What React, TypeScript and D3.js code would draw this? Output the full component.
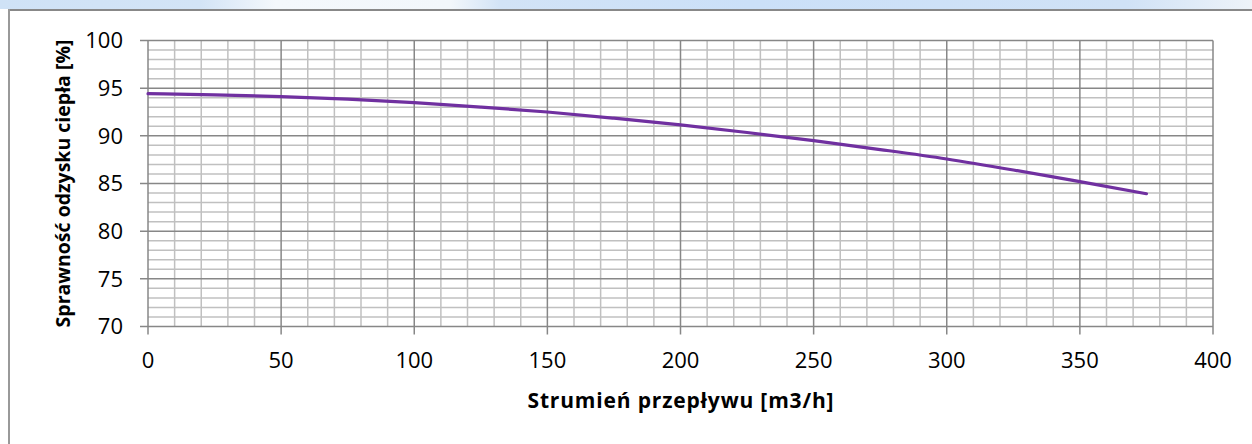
import React from "react";
import * as d3 from "d3";

const flowValues = [0, 25, 50, 75, 100, 125, 150, 175, 200, 225, 250, 275, 300, 325, 350, 375];
const efficiencyValues = [94.42, 94.3, 94.12, 93.85, 93.48, 93.02, 92.5, 91.85, 91.14, 90.35, 89.49, 88.56, 87.57, 86.42, 85.19, 83.93];
const xTicks = [0, 50, 100, 150, 200, 250, 300, 350, 400];
const yTicks = [70, 75, 80, 85, 90, 95, 100];
const xTitle = "Strumień przepływu [m3/h]";
const yTitle = "Sprawność odzysku ciepła [%]";

const W = 1252;
const H = 444;
const left = 148;
const right = 1213;
const top = 40.5;
const bottom = 326.5;

export default function App() {
  const x = d3.scaleLinear().domain([0, 400]).range([left, right]);
  const y = d3.scaleLinear().domain([70, 100]).range([bottom, top]);
  const minorX = d3.range(0, 401, 10).filter((v) => v % 50 !== 0);
  const minorY = d3.range(70, 101, 1).filter((v) => v % 5 !== 0);
  const pts: [number, number][] = flowValues.map((f, i) => [f, efficiencyValues[i]]);
  const line = d3
    .line<[number, number]>()
    .x((d) => x(d[0]))
    .y((d) => y(d[1]))
    .curve(d3.curveMonotoneX);
  const font = "'Open Sans', 'Liberation Sans', sans-serif";
  return (
    <svg
      width={W}
      height={H}
      style={{ position: "absolute", left: 0, top: 0, background: "#fff" }}
    >
      <defs>
        <linearGradient id="band" x1="0" x2="1" y1="0" y2="0">
          <stop offset="0" stopColor="#cfe2f6" />
          <stop offset="0.16" stopColor="#d3e4f6" />
          <stop offset="0.22" stopColor="#f4f8fc" />
          <stop offset="0.36" stopColor="#f2f7fb" />
          <stop offset="0.4" stopColor="#d2e3f6" />
          <stop offset="0.6" stopColor="#cbe0f8" />
          <stop offset="0.9" stopColor="#d0e2f6" />
          <stop offset="1" stopColor="#eef3f8" />
        </linearGradient>
      </defs>
      <rect x={0} y={0} width={W} height={9} fill="url(#band)" />
      <line x1={8} x2={W} y1={10} y2={10} stroke="#888" strokeWidth={2} />
      <line x1={9} x2={9} y1={9} y2={H} stroke="#999" strokeWidth={2} />

      {minorX.map((v) => (
        <line key={"mx" + v} x1={x(v)} x2={x(v)} y1={top} y2={bottom} stroke="#c0c0c0" strokeWidth={1.5} />
      ))}
      {minorY.map((v) => (
        <line key={"my" + v} x1={left} x2={right} y1={y(v)} y2={y(v)} stroke="#c0c0c0" strokeWidth={1.5} />
      ))}
      {xTicks.map((v) => (
        <line key={"Mx" + v} x1={x(v)} x2={x(v)} y1={top} y2={bottom + 8} stroke="#878787" strokeWidth={1.5} />
      ))}
      {yTicks.map((v) => (
        <line key={"My" + v} x1={left - 8} x2={right} y1={y(v)} y2={y(v)} stroke="#878787" strokeWidth={1.5} />
      ))}

      <path d={line(pts) || ""} fill="none" stroke="#7030a0" strokeWidth={3.2} strokeLinecap="round" />

      {yTicks.map((v) => (
        <text key={"ty" + v} x={123} y={y(v)} dy="0.36em" textAnchor="end" fontFamily={font} fontSize={22} fill="#000">
          {v}
        </text>
      ))}
      {xTicks.map((v) => (
        <text key={"tx" + v} x={x(v)} y={368} textAnchor="middle" fontFamily={font} fontSize={22} fill="#000">
          {v}
        </text>
      ))}
      <text
        x={(left + right) / 2}
        y={408}
        textAnchor="middle"
        fontFamily={font}
        fontSize={21}
        fontWeight="bold"
        fill="#000"
        textLength={306}
        lengthAdjust="spacing"
      >
        {xTitle}
      </text>
      <text
        transform={`translate(70, ${(top + bottom) / 2}) rotate(-90)`}
        textAnchor="middle"
        fontFamily={font}
        fontSize={19.5}
        fontWeight="bold"
        fill="#000"
      >
        {yTitle}
      </text>
    </svg>
  );
}
